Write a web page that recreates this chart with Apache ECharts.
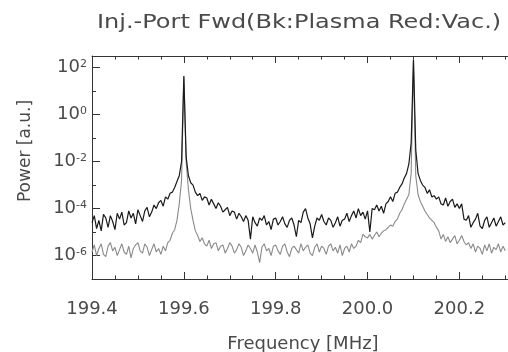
<!DOCTYPE html>
<html><head><meta charset="utf-8">
<script src="https://cdn.jsdelivr.net/npm/echarts@6/dist/echarts.min.js"></script>
<style>html,body{margin:0;padding:0;overflow:hidden;background:#fff;width:508px;height:352px}#c{width:580px;height:352px}</style>
</head><body><div id="c"></div>
<script>
// Frequency grid (MHz): start and sample step of the spectrum
const freqStart = 199.4;
const freqStep = 0.005;

// Plasma (black) spectrum, log10(power), one value per sample
const plasmaLog10 = [
 -4.6,-4.3,-4.85,-4.5,-4.95,-4.25,-4.4,-4.8,-4.3,-4.55,
 -4.9,-4.2,-4.45,-4.15,-4.7,-4.6,-4.1,-4.4,-4.2,-4.65,
 -4.05,-4.3,-4.55,-4.1,-3.95,-4.35,-4.15,-3.85,-4.0,-3.75,
 -3.65,-3.9,-3.5,-3.6,-3.35,-3.3,-3.1,-2.85,-2.6,-2.0,
 1.65,
 -1.8,-2.6,-2.9,-3.0,-3.3,-3.45,-3.35,-3.65,-3.5,-3.55,
 -3.85,-3.6,-3.8,-4.0,-3.75,-3.9,-4.15,-4.05,-3.95,-4.3,
 -4.1,-4.15,-4.45,-4.2,-4.35,-4.55,-4.3,-4.5,-5.3,-4.35,
 -4.6,-4.75,-4.4,-4.5,-4.3,-4.7,-4.55,-4.9,-4.45,-4.4,
 -4.7,-4.55,-4.35,-4.65,-4.8,-4.5,-4.4,-4.7,-5.2,-4.5,
 -4.6,-4.15,-4.0,-4.4,-4.65,-5.25,-4.75,-4.4,-4.5,-4.25,
 -4.55,-4.7,-4.4,-4.5,-4.8,-4.6,-4.35,-4.75,-4.5,-4.45,
 -4.2,-4.55,-4.3,-4.1,-4.4,-4.0,-4.3,-4.15,-4.45,-4.1,
 -5.0,-4.0,-4.05,-3.85,-4.1,-3.9,-4.2,-3.8,-3.7,-3.5,
 -3.7,-3.35,-3.3,-3.1,-2.95,-2.7,-2.5,-2.1,-1.2,
 2.35,
 -1.5,-2.5,-2.8,-3.0,-3.1,-3.35,-3.2,-3.5,-3.45,-3.6,
 -3.5,-3.8,-3.85,-3.55,-3.9,-3.7,-3.6,-3.95,-3.8,-4.0,
 -3.8,-4.45,-4.5,-4.3,-4.8,-4.6,-4.45,-4.2,-4.75,-4.85,
 -4.5,-4.35,-4.8,-4.6,-4.4,-4.75,-4.55,-4.35,-4.7,-4.6
];

// Vacuum (grey) spectrum, log10(power)
const vacuumLog10 = [
 -5.85,-5.55,-6.0,-5.7,-5.5,-5.95,-6.05,-5.6,-5.45,-5.8,
 -5.65,-6.0,-5.75,-5.5,-5.85,-5.95,-5.6,-6.1,-5.7,-5.55,
 -5.45,-5.8,-5.9,-5.5,-5.65,-6.0,-5.75,-5.5,-5.85,-5.7,
 -5.95,-5.6,-5.8,-5.45,-5.35,-5.05,-4.9,-4.5,-3.8,-2.8,
 1.6,
 -2.0,-3.2,-4.0,-4.5,-4.95,-5.15,-5.4,-5.25,-5.5,-5.6,
 -5.35,-5.7,-5.5,-5.45,-5.8,-5.6,-5.55,-5.9,-5.7,-5.45,
 -5.6,-5.9,-5.75,-5.5,-5.65,-6.0,-5.8,-5.55,-5.7,-5.9,
 -5.55,-5.85,-6.3,-5.65,-5.5,-5.8,-5.7,-6.0,-5.6,-5.55,
 -5.8,-5.95,-5.6,-5.5,-5.85,-6.05,-5.7,-5.6,-5.75,-5.9,
 -5.5,-5.8,-5.65,-5.55,-5.9,-6.0,-5.65,-5.5,-5.85,-5.6,
 -5.7,-5.95,-5.6,-5.5,-5.8,-5.65,-5.9,-5.55,-6.0,-5.7,
 -5.6,-5.85,-5.5,-5.7,-5.6,-5.35,-5.45,-5.1,-5.2,-5.25,
 -5.1,-5.3,-5.15,-5.0,-5.2,-5.05,-4.95,-4.9,-4.8,-4.7,
 -4.75,-4.55,-4.45,-4.2,-4.05,-3.8,-3.6,-3.4,-2.5,
 2.3,
 -2.6,-3.4,-3.7,-3.9,-4.1,-4.25,-4.4,-4.5,-4.6,-4.8,
 -4.95,-5.3,-5.1,-5.4,-5.2,-5.45,-5.3,-5.15,-5.5,-5.35,
 -5.15,-5.4,-5.55,-5.45,-5.7,-5.5,-5.85,-5.6,-5.7,-5.95,
 -5.55,-5.8,-5.5,-5.9,-5.65,-5.75,-5.5,-5.85,-5.6,-5.8
];

const xTickLabels = ['199.4','199.6','199.8','200.0','200.2','200.4'];
const yTickExponents = [-6,-4,-2,0,2];
const titleText = 'Inj.-Port Fwd(Bk:Plasma Red:Vac.)';
const xName = 'Frequency [MHz]';
const yName = 'Power [a.u.]';

const FONT = 'DejaVu Sans';
const TXT = '#4a4a4a';
const AX = '#333';

const toPoints = arr => arr.map((v, i) => [+(freqStart + i * freqStep).toFixed(3), Math.pow(10, v)]);

const chart = echarts.init(document.getElementById('c'), null, {renderer: 'canvas'});
const plotH = 223;
const xCommon = {
  type: 'value', min: 199.4, max: 200.4, interval: 0.2,
  axisLine: {show: true, lineStyle: {color: AX, width: 1}},
  axisTick: {show: true, inside: true, length: 7, lineStyle: {color: AX}},
  minorTick: {show: true, splitNumber: 4, length: 3.5, lineStyle: {color: AX}},
  splitLine: {show: false}, minorSplitLine: {show: false}
};
chart.setOption({
  animation: false,
  backgroundColor: '#fff',
  grid: [
    {left: 92, top: 56, width: 473.5, height: plotH, containLabel: false},
    {left: 92, top: 56, width: 473.5, height: plotH * 8.5 / 9.5, containLabel: false}
  ],
  xAxis: [
    Object.assign({}, xCommon, {gridIndex: 0, position: 'bottom',
      axisLabel: {show: true, fontSize: 18, fontFamily: FONT, color: TXT, margin: 21,
        formatter: v => { const s = v.toFixed(1); return xTickLabels.includes(s) ? s : ''; }}}),
    Object.assign({}, xCommon, {gridIndex: 0, position: 'top', axisLabel: {show: false}}),
    {gridIndex: 1, type: 'value', min: 0, max: 1, show: false}
  ],
  yAxis: [
    {gridIndex: 0, type: 'log', logBase: 10, min: 1e-7, max: 316.227766, interval: 1,
     axisLine: {show: true, lineStyle: {color: AX, width: 1}},
     axisTick: {show: true, inside: true, length: 4, lineStyle: {color: AX}},
     axisLabel: {show: false}, splitLine: {show: false}},
    {gridIndex: 1, type: 'log', logBase: 10, min: 1e-6, max: 316.227766, interval: 2,
     axisLine: {show: false},
     axisTick: {show: true, inside: true, length: 8, lineStyle: {color: AX}},
     splitLine: {show: false},
     axisLabel: {show: true, margin: 5, showMaxLabel: false,
       formatter: v => {
         const l = Math.log10(v); const e = Math.round(l);
         if (Math.abs(l - e) > 0.01 || !yTickExponents.includes(e)) return '';
         return '{b|10}{s|' + e + '}';
       },
       rich: {
         b: {fontSize: 18, fontFamily: FONT, color: TXT, lineHeight: 18},
         s: {fontSize: 11, fontFamily: FONT, color: TXT, lineHeight: 6, verticalAlign: 'top'}
       }}}
  ],
  series: [
    {name: 'Vac', type: 'line', xAxisIndex: 0, yAxisIndex: 0, data: toPoints(vacuumLog10),
     showSymbol: false, symbol: 'none', lineStyle: {color: '#8a8a8a', width: 1.1}, z: 2},
    {name: 'Plasma', type: 'line', xAxisIndex: 0, yAxisIndex: 0, data: toPoints(plasmaLog10),
     showSymbol: false, symbol: 'none', lineStyle: {color: '#1a1a1a', width: 1.2}, z: 3}
  ],
  graphic: [
    {type: 'text', x: 97, y: 22.5, scaleX: 1.2, silent: true,
     style: {text: titleText, x: 0, y: 0, fontSize: 20, fontFamily: FONT, fill: TXT, align: 'left', verticalAlign: 'middle'}},
    {type: 'text', x: 303, y: 344, silent: true,
     style: {text: xName, x: 0, y: 0, fontSize: 18, fontFamily: FONT, fill: TXT, align: 'center', verticalAlign: 'middle'}},
    {type: 'text', x: 26, y: 151, rotation: Math.PI / 2, silent: true,
     style: {text: yName, x: 0, y: 0, fontSize: 17, fontFamily: FONT, fill: TXT, align: 'center', verticalAlign: 'middle'}}
  ]
});
</script>
</body></html>
